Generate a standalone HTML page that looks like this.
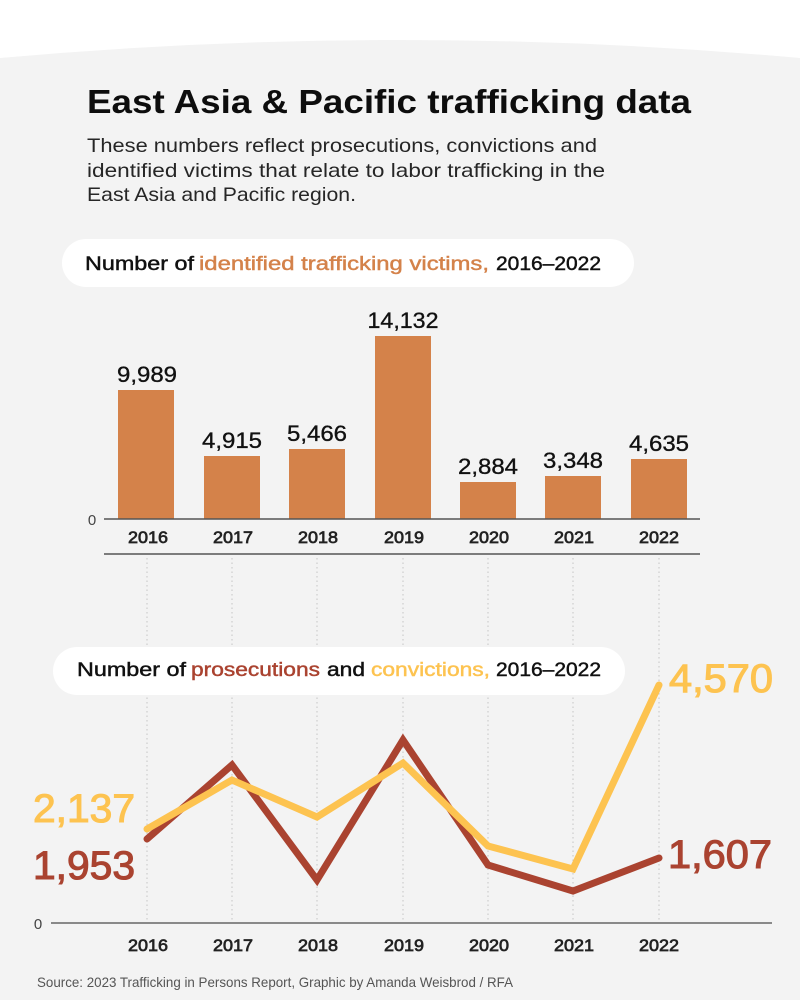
<!DOCTYPE html>
<html>
<head>
<meta charset="utf-8">
<style>
  html,body{margin:0;padding:0;background:#ffffff;}
  svg{display:block;}
  text{font-family:"Liberation Sans", Arial, sans-serif;}
</style>
</head>
<body>
<svg width="800" height="1000" viewBox="0 0 800 1000" xmlns="http://www.w3.org/2000/svg">
  <rect x="0" y="0" width="800" height="1000" fill="#ffffff"/>
  <path d="M0,58 Q400,22 800,58 L800,1000 L0,1000 Z" fill="#f3f3f3"/>

  <!-- Title -->
  <text x="87" y="113" font-size="33" font-weight="bold" fill="#0d0d0d" textLength="604" lengthAdjust="spacingAndGlyphs">East Asia &amp; Pacific trafficking data</text>
  <text x="87" y="152" font-size="19.5" fill="#262626" textLength="510" lengthAdjust="spacingAndGlyphs">These numbers reflect prosecutions, convictions and</text>
  <text x="87" y="177" font-size="19.5" fill="#262626" textLength="518" lengthAdjust="spacingAndGlyphs">identified victims that relate to labor trafficking in the</text>
  <text x="87" y="201" font-size="19.5" fill="#262626" textLength="269" lengthAdjust="spacingAndGlyphs">East Asia and Pacific region.</text>

  <!-- Pill 1 -->
  <rect x="62" y="239" width="572" height="48" rx="24" ry="24" fill="#ffffff"/>
  <g font-size="19" stroke-width="0.45">
    <text x="85" y="270" fill="#111" stroke="#111" textLength="109" lengthAdjust="spacingAndGlyphs">Number of</text>
    <text x="199" y="270" fill="#d4824a" stroke="#d4824a" textLength="290" lengthAdjust="spacingAndGlyphs">identified trafficking victims,</text>
    <text x="496" y="270" fill="#111" stroke="#111" textLength="105" lengthAdjust="spacingAndGlyphs">2016–2022</text>
  </g>

  <!-- dotted verticals -->
  <g stroke="#c4c4c4" stroke-width="1" stroke-dasharray="1.5 3">
    <line x1="147" y1="558" x2="147" y2="922"/>
    <line x1="232" y1="558" x2="232" y2="922"/>
    <line x1="317" y1="558" x2="317" y2="922"/>
    <line x1="403" y1="558" x2="403" y2="922"/>
    <line x1="488" y1="558" x2="488" y2="922"/>
    <line x1="573" y1="558" x2="573" y2="922"/>
    <line x1="659" y1="558" x2="659" y2="922"/>
  </g>

  <!-- Bars -->
  <g fill="#d4824a">
    <rect x="118" y="390" width="56" height="129"/>
    <rect x="204" y="456" width="56" height="63"/>
    <rect x="289" y="449" width="56" height="70"/>
    <rect x="375" y="336" width="56" height="183"/>
    <rect x="460" y="482" width="56" height="37"/>
    <rect x="545" y="476" width="56" height="43"/>
    <rect x="631" y="459" width="56" height="60"/>
  </g>
  <g font-size="22" fill="#111" stroke="#111" stroke-width="0.35" text-anchor="middle">
    <text x="147" y="382" textLength="60" lengthAdjust="spacingAndGlyphs">9,989</text>
    <text x="232" y="448" textLength="60" lengthAdjust="spacingAndGlyphs">4,915</text>
    <text x="317" y="441" textLength="60" lengthAdjust="spacingAndGlyphs">5,466</text>
    <text x="403" y="328" textLength="71" lengthAdjust="spacingAndGlyphs">14,132</text>
    <text x="488" y="474" textLength="60" lengthAdjust="spacingAndGlyphs">2,884</text>
    <text x="573" y="468" textLength="60" lengthAdjust="spacingAndGlyphs">3,348</text>
    <text x="659" y="451" textLength="60" lengthAdjust="spacingAndGlyphs">4,635</text>
  </g>
  <line x1="104" y1="519" x2="700" y2="519" stroke="#555" stroke-width="1.5"/>
  <text x="92" y="525" font-size="15" fill="#444" text-anchor="middle">0</text>
  <g font-size="17" fill="#222" stroke="#222" stroke-width="0.7" text-anchor="middle">
    <text x="148" y="543" textLength="40" lengthAdjust="spacingAndGlyphs">2016</text>
    <text x="233" y="543" textLength="40" lengthAdjust="spacingAndGlyphs">2017</text>
    <text x="318" y="543" textLength="40" lengthAdjust="spacingAndGlyphs">2018</text>
    <text x="404" y="543" textLength="40" lengthAdjust="spacingAndGlyphs">2019</text>
    <text x="489" y="543" textLength="40" lengthAdjust="spacingAndGlyphs">2020</text>
    <text x="574" y="543" textLength="40" lengthAdjust="spacingAndGlyphs">2021</text>
    <text x="659" y="543" textLength="40" lengthAdjust="spacingAndGlyphs">2022</text>
  </g>
  <line x1="104" y1="554" x2="700" y2="554" stroke="#555" stroke-width="1.5"/>

  <!-- Pill 2 -->
  <rect x="53" y="647" width="572" height="48" rx="24" ry="24" fill="#ffffff"/>
  <g font-size="19" stroke-width="0.45">
    <text x="77" y="676" fill="#111" stroke="#111" textLength="109" lengthAdjust="spacingAndGlyphs">Number of</text>
    <text x="191" y="676" fill="#aa4330" stroke="#aa4330" textLength="129" lengthAdjust="spacingAndGlyphs">prosecutions</text>
    <text x="327" y="676" fill="#111" stroke="#111" textLength="38" lengthAdjust="spacingAndGlyphs">and</text>
    <text x="371" y="676" fill="#fdc350" stroke="#fdc350" textLength="119" lengthAdjust="spacingAndGlyphs">convictions,</text>
    <text x="496" y="676" fill="#111" stroke="#111" textLength="105" lengthAdjust="spacingAndGlyphs">2016–2022</text>
  </g>

  <!-- Line chart -->
  <line x1="51" y1="923" x2="772" y2="923" stroke="#666" stroke-width="1.5"/>
  <text x="38" y="929" font-size="15" fill="#444" text-anchor="middle">0</text>

  <polyline points="147,839 232,765 317,880 403,740 488,865 573,891 659,858" fill="none" stroke="#aa4330" stroke-width="7" stroke-linejoin="miter" stroke-linecap="round"/>
  <polyline points="147,829 232,780 317,817 403,763 488,846 573,869 659,685" fill="none" stroke="#fdc350" stroke-width="7" stroke-linejoin="miter" stroke-linecap="round"/>

  <g font-size="40" stroke-width="1.1">
    <text x="33" y="822" fill="#fdc350" stroke="#fdc350" textLength="102" lengthAdjust="spacingAndGlyphs">2,137</text>
    <text x="33" y="879" fill="#aa4330" stroke="#aa4330" textLength="102" lengthAdjust="spacingAndGlyphs">1,953</text>
    <text x="669" y="692" fill="#fdc350" stroke="#fdc350" textLength="104" lengthAdjust="spacingAndGlyphs">4,570</text>
    <text x="668" y="868" fill="#aa4330" stroke="#aa4330" textLength="104" lengthAdjust="spacingAndGlyphs">1,607</text>
  </g>

  <g font-size="17" fill="#222" stroke="#222" stroke-width="0.7" text-anchor="middle">
    <text x="148" y="951" textLength="40" lengthAdjust="spacingAndGlyphs">2016</text>
    <text x="233" y="951" textLength="40" lengthAdjust="spacingAndGlyphs">2017</text>
    <text x="318" y="951" textLength="40" lengthAdjust="spacingAndGlyphs">2018</text>
    <text x="404" y="951" textLength="40" lengthAdjust="spacingAndGlyphs">2019</text>
    <text x="489" y="951" textLength="40" lengthAdjust="spacingAndGlyphs">2020</text>
    <text x="574" y="951" textLength="40" lengthAdjust="spacingAndGlyphs">2021</text>
    <text x="659" y="951" textLength="40" lengthAdjust="spacingAndGlyphs">2022</text>
  </g>

  <!-- Footer -->
  <text x="37" y="987" font-size="14" fill="#555" textLength="476" lengthAdjust="spacingAndGlyphs">Source: 2023 Trafficking in Persons Report, Graphic by Amanda Weisbrod / RFA</text>
</svg>
</body>
</html>
